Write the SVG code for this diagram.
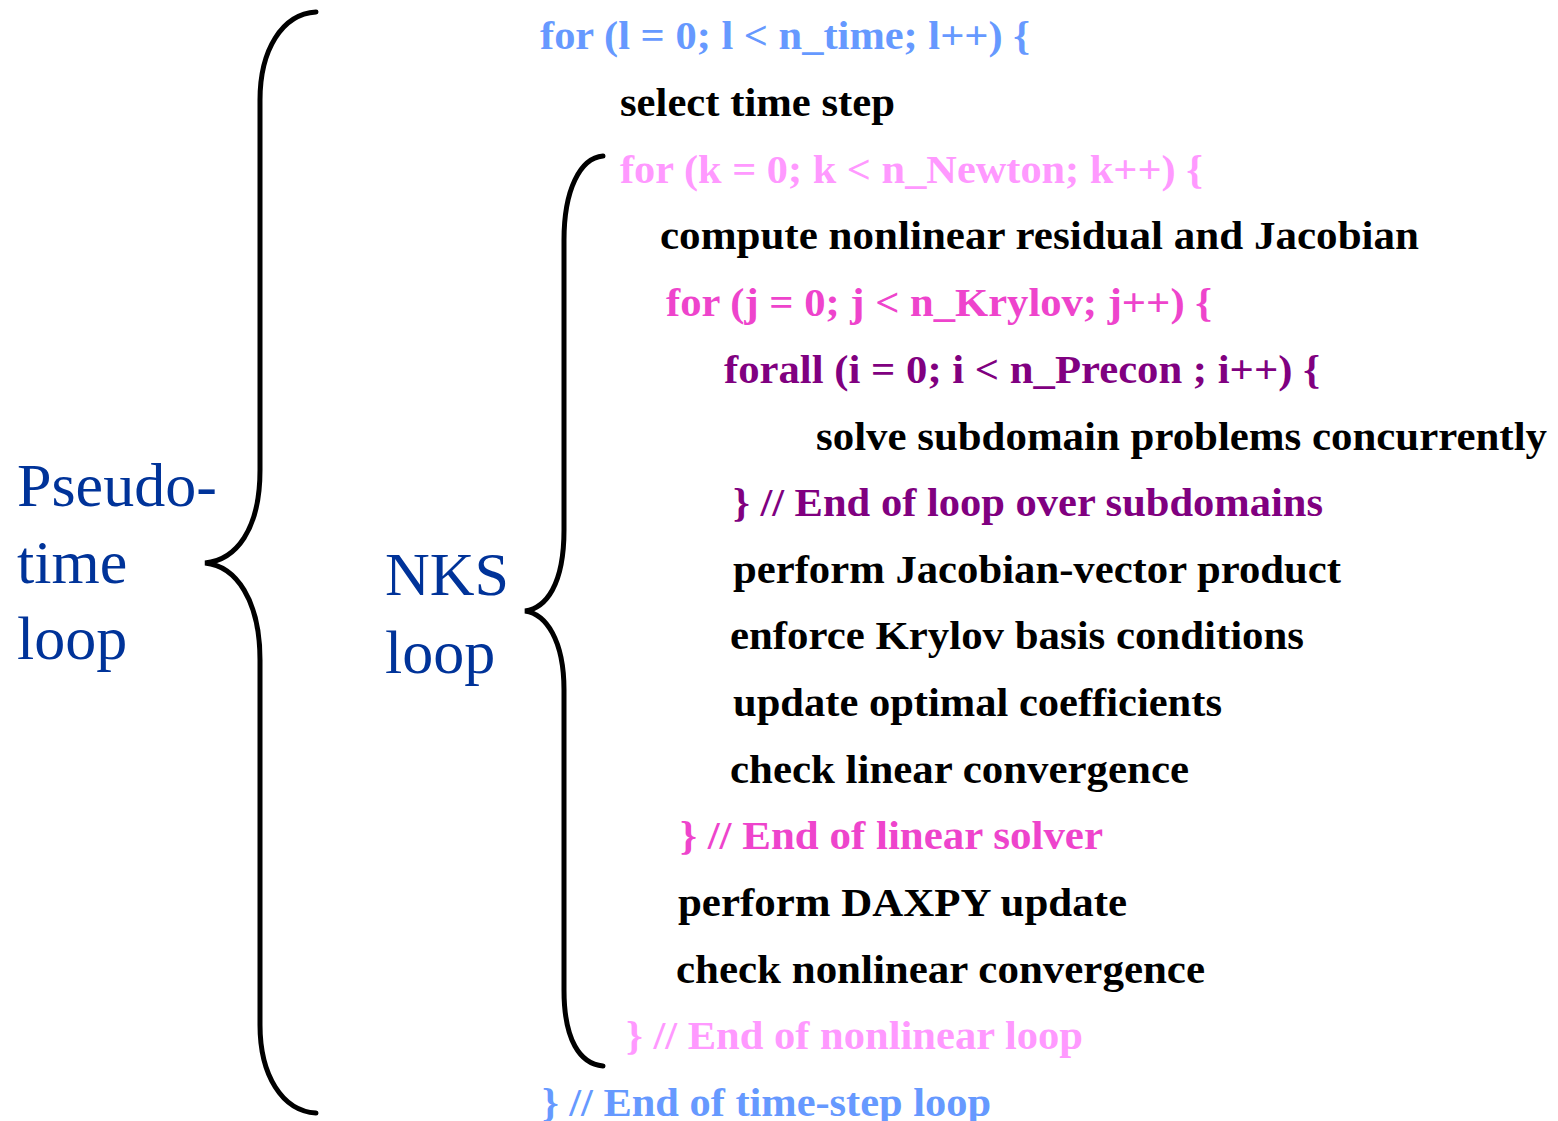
<svg xmlns="http://www.w3.org/2000/svg" width="1558" height="1121" viewBox="0 0 1558 1121">
<style>
.code{font-family:"Liberation Serif","Times New Roman",serif;font-weight:bold;font-size:41px}
.lab{font-family:"Liberation Serif","Times New Roman",serif;font-size:62px;fill:#003399}
.brace{fill:none;stroke:#000;stroke-width:5;stroke-linecap:round;stroke-linejoin:miter}
.blue{fill:#6699FF}.pink{fill:#FF99FF}.mag{fill:#EE44CC}.pur{fill:#800080}.blk{fill:#000}
</style>
<rect width="1558" height="1121" fill="#fff"/>
<g id="connectors">
<path class="brace" d="M316,12 C282,14 260,50 260,100 L260,470 C260,530 236,560 205,563 C236,566 260,600 260,660 L260,1025 C260,1075 282,1111 316,1113"/>
<path class="brace" d="M603,156 C580,158 564,190 564,240 L564,530 C564,585 546,608 525,611 C546,614 564,640 564,690 L564,990 C564,1040 580,1064 603,1066"/>
</g>
<g id="label-pseudo-time">
<text class="lab" x="17" y="506">Pseudo-</text>
<text class="lab" x="17" y="583">time</text>
<text class="lab" x="17" y="659">loop</text>
</g>
<g id="label-nks">
<text class="lab" x="385" y="595">NKS</text>
<text class="lab" x="385" y="673">loop</text>
</g>
<g id="code">
<text class="code blue" x="540" y="49" textLength="490" lengthAdjust="spacingAndGlyphs">for (l = 0; l &lt; n_time; l++) {</text>
<text class="code blk" x="620" y="116" textLength="275" lengthAdjust="spacingAndGlyphs">select time step</text>
<text class="code pink" x="620" y="183" textLength="583" lengthAdjust="spacingAndGlyphs">for (k = 0; k &lt; n_Newton; k++) {</text>
<text class="code blk" x="660" y="249" textLength="759" lengthAdjust="spacingAndGlyphs">compute nonlinear residual and Jacobian</text>
<text class="code mag" x="666" y="316" textLength="546" lengthAdjust="spacingAndGlyphs">for (j = 0; j &lt; n_Krylov; j++) {</text>
<text class="code pur" x="724" y="383" textLength="596" lengthAdjust="spacingAndGlyphs">forall (i = 0; i &lt; n_Precon ; i++) {</text>
<text class="code blk" x="816" y="450" textLength="731" lengthAdjust="spacingAndGlyphs">solve subdomain problems concurrently</text>
<text class="code pur" x="733" y="516" textLength="590" lengthAdjust="spacingAndGlyphs">} // End of loop over subdomains</text>
<text class="code blk" x="733" y="583" textLength="608" lengthAdjust="spacingAndGlyphs">perform Jacobian-vector product</text>
<text class="code blk" x="730" y="649" textLength="574" lengthAdjust="spacingAndGlyphs">enforce Krylov basis conditions</text>
<text class="code blk" x="733" y="716" textLength="489" lengthAdjust="spacingAndGlyphs">update optimal coefficients</text>
<text class="code blk" x="730" y="783" textLength="459" lengthAdjust="spacingAndGlyphs">check linear convergence</text>
<text class="code mag" x="680" y="849" textLength="423" lengthAdjust="spacingAndGlyphs">} // End of linear solver</text>
<text class="code blk" x="678" y="916" textLength="449" lengthAdjust="spacingAndGlyphs">perform DAXPY update</text>
<text class="code blk" x="676" y="983" textLength="529" lengthAdjust="spacingAndGlyphs">check nonlinear convergence</text>
<text class="code pink" x="626" y="1049" textLength="457" lengthAdjust="spacingAndGlyphs">} // End of nonlinear loop</text>
<text class="code blue" x="542" y="1116" textLength="449" lengthAdjust="spacingAndGlyphs">} // End of time-step loop</text>
</g>
</svg>
